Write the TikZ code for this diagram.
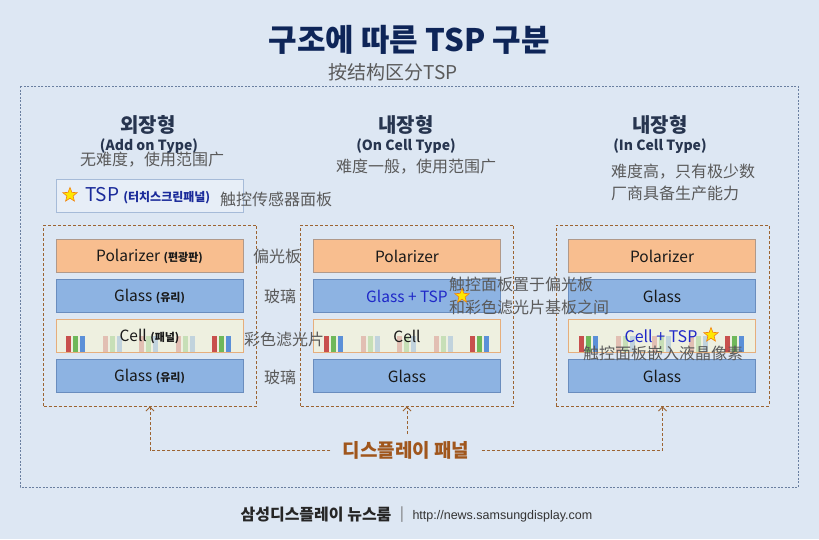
\documentclass[tikz,border=0pt]{standalone}
\usepackage{fontspec}
\setmainfont{Noto Sans CJK KR}
\newfontfamily\zhfont{Noto Sans CJK SC}
\newfontfamily\urlfont{Liberation Sans}
\usetikzlibrary{shapes.geometric,arrows.meta}
\definecolor{bg}{HTML}{DDE7F3}
\definecolor{titlec}{HTML}{0E2558}
\definecolor{headc}{HTML}{27354F}
\definecolor{grayc}{HTML}{5A5A5A}
\definecolor{polfill}{HTML}{F8BE8F}
\definecolor{poldraw}{HTML}{B0998A}
\definecolor{glfill}{HTML}{8DB3E2}
\definecolor{gldraw}{HTML}{6A8DBE}
\definecolor{cellfill}{HTML}{EEF0E0}
\definecolor{celldraw}{HTML}{E6AE7C}
\definecolor{brownc}{HTML}{9C6432}
\definecolor{labelc}{HTML}{A0561C}
\definecolor{bluec}{HTML}{1F28C8}
\definecolor{tspc}{HTML}{1A2A9A}
\definecolor{outerc}{HTML}{6A7FA0}
\definecolor{barR}{HTML}{C8504D}
\definecolor{barG}{HTML}{6FB85A}
\definecolor{barB}{HTML}{5B90D8}
\newcommand\fs[1]{\fontsize{#1}{#1}\selectfont}
\newcommand\mkbars[1]{%
  \foreach \o/\op in {10/1,47/0.3,83/0.3,120/0.3,156/1}{%
    \fill[barR,opacity=\op] (#1+\o,336) rectangle ++(5,16);
    \fill[barG,opacity=\op] (#1+\o+7,336) rectangle ++(5,16);
    \fill[barB,opacity=\op] (#1+\o+14,336) rectangle ++(5,16);
  }}
\begin{document}
\begin{tikzpicture}[x=1pt,y=-1pt,
  lay/.style={minimum width=187pt,minimum height=33pt,inner sep=0pt,line width=0.8pt,font=\fs{15.5},text=black!90},
  polar/.style={lay,draw=poldraw,fill=polfill},
  glass/.style={lay,draw=gldraw,fill=glfill},
  cellbox/.style={lay,draw=celldraw,fill=cellfill},
  colbox/.style={draw=brownc,dash pattern=on 3pt off 2pt,line width=0.9pt,minimum width=213pt,minimum height=181pt,inner sep=0pt},
  conn/.style={draw=brownc,dash pattern=on 3pt off 2pt,line width=0.9pt},
  arr/.style={conn,-{Straight Barb[length=4pt,width=8pt]}},
  head/.style={text=headc,font=\fs{20}\bfseries},
  sub/.style={text=headc,font=\fs{14}\bfseries},
  zh/.style={text=grayc,font=\zhfont\fs{16},inner sep=0pt},
  starnode/.style={star,star points=5,star point ratio=2.3,minimum size=15pt,inner sep=0pt,fill=yellow!90!orange,draw=orange!80!brown,line width=0.6pt}
]
\fill[bg] (0,0) rectangle (819,539);
\useasboundingbox (0,0) rectangle (819,539);

% title
\node[text=titlec,font=\fs{31}\bfseries] (title) at (409,40) {구조에 따른 TSP 구분};
\node[text=grayc,font=\zhfont\fs{19}] (subtitle) at (393,72) {按结构区分TSP};

% outer frame
\draw[outerc,dash pattern=on 2pt off 1.5pt,line width=0.8pt] (20,86) rectangle (798,487);

% headers
\node[head] (h1) at (148,125) {외장형};
\node[sub] (s1) at (149,146) {(Add on Type)};
\node[zh] (z1) at (152,160) {无难度，使用范围广};
\node[head] (h2) at (406,125) {내장형};
\node[sub] (s2) at (406,146) {(On Cell Type)};
\node[zh] (z2) at (416,167) {难度一般，使用范围广};
\node[head] (h3) at (660,125) {내장형};
\node[sub] (s3) at (660,146) {(In Cell Type)};
\node[zh,anchor=west] (z3a) at (611,172) {难度高，只有极少数};
\node[zh,anchor=west] (z3b) at (611,193) {厂商具备生产能力};

% TSP legend box
\node[draw=gldraw!60,fill=bg!70!white,line width=0.6pt,minimum width=187pt,minimum height=33pt,inner sep=0pt] (tspbox) at (149.5,196) {};
\node[starnode] (star1) at (70,195) {};
\node[anchor=west,text=tspc,inner sep=0pt] (tsptxt) at (85,196) {\fs{19}TSP \fs{12}\bfseries(터치스크린패널)};
\node[zh,anchor=west] (tspzh) at (220,199) {触控传感器面板};

% column boxes
\node[colbox] (box1) at (150,315.5) {};
\node[colbox] (box2) at (407,315.5) {};
\node[colbox] (box3) at (662.5,315.5) {};

% column 1 layers
\node[polar] (p1) at (149.5,256) {Polarizer \fs{11}\bfseries(편광판)};
\node[glass] (g1) at (149.5,296) {Glass \fs{11}\bfseries(유리)};
\node[cellbox] (c1) at (149.5,336) {};
\mkbars{56}
\node[font=\fs{15.5},text=black!90,inner sep=0pt] (c1t) at (149.5,336) {Cell \fs{11}\bfseries(패널)};
\node[glass] (gb1) at (149.5,376) {Glass \fs{11}\bfseries(유리)};

% column 2 layers
\node[polar] (p2) at (407,256) {Polarizer};
\node[glass,text=bluec] (g2) at (407,296) {Glass + TSP};
\node[cellbox] (c2) at (407,336) {};
\mkbars{313.5}
\node[font=\fs{15.5},text=black!90,inner sep=0pt] (c2t) at (407,336) {Cell};
\node[glass] (gb2) at (407,376) {Glass};

% column 3 layers
\node[polar] (p3) at (662,256) {Polarizer};
\node[glass] (g3) at (662,296) {Glass};
\node[cellbox] (c3) at (662,336) {};
\mkbars{568.5}
\node[font=\fs{16},text=bluec,inner sep=0pt] (c3t) at (661,336) {Cell + TSP};
\node[glass] (gb3) at (662,376) {Glass};

% annotations (on top)
\node[zh] (l1) at (277,256) {偏光板};
\node[zh] (l2) at (280,296) {玻璃};
\node[zh] (l3) at (284,339) {彩色滤光片};
\node[zh] (l4) at (280,377) {玻璃};
\node[zh,anchor=west] (a2a) at (449,284) {触控面板置于偏光板};
\node[zh,anchor=west] (a2b) at (449,307) {和彩色滤光片基板之间};
\node[starnode] (star2) at (462,296) {};
\node[zh] (a3) at (663,353) {触控面板嵌入液晶像素};
\node[starnode] (star3) at (711,335) {};

% display panel connectors
\node[text=labelc,font=\fs{19}\bfseries,inner sep=12pt] (dp) at (406,450) {디스플레이 패널};
\coordinate (c2s) at (407,434);
\draw[arr] (dp.west) -| (box1.south);
\draw[arr] (dp.east) -| (box3.south);
\draw[arr] (c2s) -- (box2.south);

% footer
\node[text=black!85,font=\fs{16}\bfseries,anchor=east] (foot) at (395,515) {삼성디스플레이 뉴스룸};
\node[text=black!60,font=\fs{14}] (bar) at (402,515) {|};
\node[text=black!80,font=\urlfont\fs{12.5},anchor=west] (url) at (409,516) {http://news.samsungdisplay.com};
\end{tikzpicture}
\end{document}
